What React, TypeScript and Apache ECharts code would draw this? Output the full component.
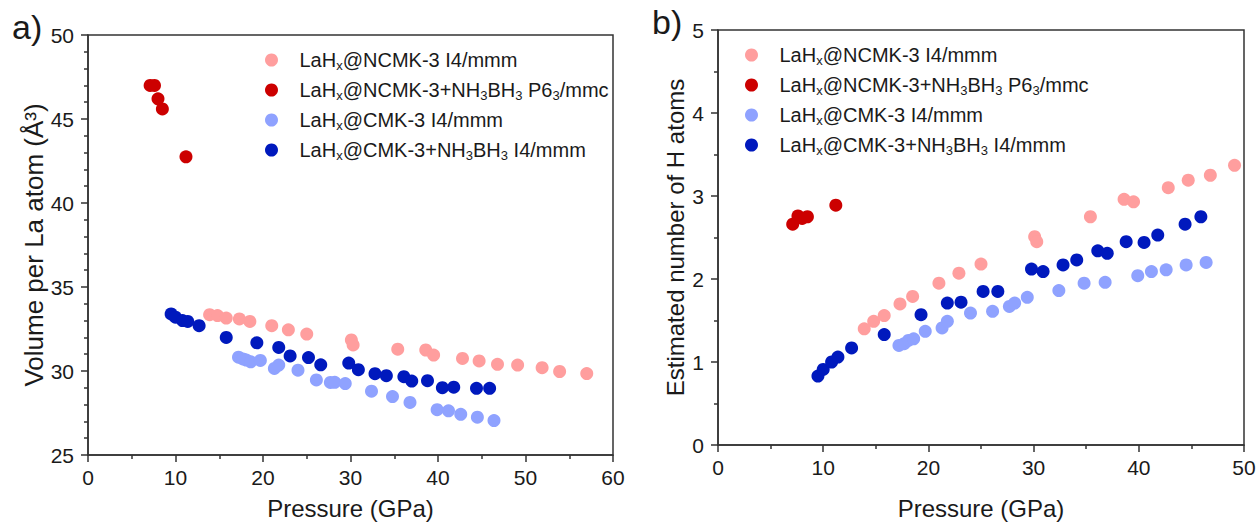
import React, { useEffect, useRef } from "react";
import * as echarts from "echarts";

// ---- Data ----
const seriesNames = [
  "LaHx@NCMK-3 I4/mmm",
  "LaHx@NCMK-3+NH3BH3 P63/mmc",
  "LaHx@CMK-3 I4/mmm",
  "LaHx@CMK-3+NH3BH3 I4/mmm",
];
const seriesColors = ["#FF9E9E", "#CC0000", "#8FA2FF", "#0019BD"];

// LaHx@NCMK-3 I4/mmm
const ncmkP = [13.9, 14.8, 15.8, 17.3, 18.5, 21.0, 22.9, 25.0, 30.1, 30.3, 35.4, 38.6, 39.5, 42.8, 44.7, 46.8, 49.1, 51.9, 53.9, 57.0];
const ncmkV = [33.35, 33.3, 33.15, 33.1, 32.95, 32.7, 32.45, 32.2, 31.85, 31.55, 31.3, 31.25, 30.95, 30.75, 30.6, 30.4, 30.35, 30.2, 29.97, 29.85];
const ncmkH = [1.40, 1.49, 1.56, 1.70, 1.79, 1.95, 2.07, 2.18, 2.51, 2.45, 2.75, 2.96, 2.93, 3.10, 3.19, 3.25, 3.37];

// LaHx@NCMK-3+NH3BH3 P63/mmc
const ncmkAbP = [7.1, 7.6, 8.0, 8.5, 11.2];
const ncmkAbV = [47.0, 47.0, 46.2, 45.6, 42.75];
const ncmkAbH = [2.66, 2.76, 2.73, 2.75, 2.89];

// LaHx@CMK-3 I4/mmm
const cmkP = [17.2, 17.7, 18.1, 18.6, 19.7, 21.3, 21.8, 24.0, 26.1, 27.7, 28.2, 29.4, 32.4, 34.8, 36.8, 39.9, 41.2, 42.6, 44.5, 46.4];
const cmkV = [30.82, 30.72, 30.65, 30.55, 30.63, 30.15, 30.35, 30.05, 29.47, 29.32, 29.33, 29.25, 28.8, 28.48, 28.13, 27.7, 27.63, 27.42, 27.25, 27.05];
const cmkH = [1.20, 1.22, 1.26, 1.28, 1.37, 1.41, 1.49, 1.59, 1.61, 1.67, 1.71, 1.78, 1.86, 1.95, 1.96, 2.04, 2.09, 2.11, 2.17, 2.20];

// LaHx@CMK-3+NH3BH3 I4/mmm
const cmkAbP = [9.5, 10.0, 10.8, 11.4, 12.7, 15.8, 19.3, 21.8, 23.1, 25.2, 26.6, 29.8, 30.9, 32.8, 34.1, 36.1, 37.0, 38.8, 40.5, 41.8, 44.4, 45.9];
const cmkAbV = [33.4, 33.2, 33.0, 32.95, 32.7, 32.0, 31.68, 31.4, 30.9, 30.8, 30.37, 30.47, 30.08, 29.84, 29.72, 29.66, 29.4, 29.42, 29.01, 29.04, 28.97, 28.97];
const cmkAbH = [0.83, 0.91, 1.0, 1.06, 1.17, 1.33, 1.57, 1.71, 1.72, 1.85, 1.85, 2.12, 2.09, 2.17, 2.23, 2.34, 2.31, 2.45, 2.44, 2.53, 2.66, 2.75];

const pressures = [ncmkP, ncmkAbP, cmkP, cmkAbP];
const volumes = [ncmkV, ncmkAbV, cmkV, cmkAbV];
const hAtoms = [ncmkH, ncmkAbH, cmkH, cmkAbH];

const legendRich: Record<string, string> = {
  "LaHx@NCMK-3 I4/mmm": "{t|LaH}{s|x}{t|@NCMK-3 I4/mmm}",
  "LaHx@NCMK-3+NH3BH3 P63/mmc": "{t|LaH}{s|x}{t|@NCMK-3+NH}{s|3}{t|BH}{s|3}{t| P6}{s|3}{t|/mmc}",
  "LaHx@CMK-3 I4/mmm": "{t|LaH}{s|x}{t|@CMK-3 I4/mmm}",
  "LaHx@CMK-3+NH3BH3 I4/mmm": "{t|LaH}{s|x}{t|@CMK-3+NH}{s|3}{t|BH}{s|3}{t| I4/mmm}",
};

const FONT = "'Liberation Sans', Arial, Helvetica, sans-serif";
const TXT = "#1a1a1a";
const AX = "#333333";

function pair(xs: number[], ys: number[]) {
  return ys.map((y, i) => [xs[i], y]);
}

export default function App() {
  const ref = useRef<HTMLDivElement>(null);
  useEffect(() => {
    if (!ref.current) return;
    const chart = echarts.init(ref.current, undefined, { renderer: "svg" });

    const axisCommon = {
      axisLine: { show: true, lineStyle: { color: AX, width: 1.5 } },
      axisTick: { show: true, inside: false, length: 7, lineStyle: { color: AX, width: 1.5 } },
      minorTick: { show: true, length: 4, lineStyle: { color: AX, width: 1.5 } },
      splitLine: { show: false },
      axisLabel: { color: TXT, fontSize: 21, fontFamily: FONT },
      nameTextStyle: { color: TXT, fontSize: 24, fontFamily: FONT },
      nameLocation: "middle" as const,
    };

    const legendCommon = {
      orient: "vertical" as const,
      icon: "circle",
      itemWidth: 46,
      itemHeight: 13,
      itemGap: 8,
      data: seriesNames,
      formatter: (name: string) => legendRich[name],
      textStyle: {
        rich: {
          t: { fontSize: 20, lineHeight: 24, color: TXT, fontFamily: FONT },
          s: { fontSize: 13, lineHeight: 9, verticalAlign: "bottom", color: TXT, fontFamily: FONT },
        },
      },
      selectedMode: false,
    };

    const series: any[] = [];
    seriesNames.forEach((name, k) => {
      series.push({
        name,
        type: "scatter",
        xAxisIndex: 0,
        yAxisIndex: 0,
        symbol: "circle",
        symbolSize: 13,
        itemStyle: { color: seriesColors[k], opacity: 1 },
        data: pair(pressures[k], volumes[k]),
      });
    });
    seriesNames.forEach((name, k) => {
      series.push({
        name,
        type: "scatter",
        xAxisIndex: 1,
        yAxisIndex: 1,
        symbol: "circle",
        symbolSize: 13,
        itemStyle: { color: seriesColors[k], opacity: 1 },
        data: pair(pressures[k], hAtoms[k]),
      });
    });

    chart.setOption({
      animation: false,
      textStyle: { fontFamily: FONT },
      grid: [
        { left: 88, top: 35, width: 525, height: 423, show: true, borderColor: AX, borderWidth: 1.5, backgroundColor: "transparent" },
        { left: 718, top: 30, width: 526, height: 423, show: true, borderColor: AX, borderWidth: 1.5, backgroundColor: "transparent" },
      ],
      xAxis: [
        {
          ...axisCommon,
          gridIndex: 0,
          type: "value",
          min: 0,
          max: 60,
          interval: 10,
          minorTick: { ...axisCommon.minorTick, splitNumber: 2 },
          axisLabel: { ...axisCommon.axisLabel, margin: 12 },
          name: "Pressure (GPa)",
          nameGap: 41,
        },
        {
          ...axisCommon,
          gridIndex: 1,
          type: "value",
          min: 0,
          max: 50,
          interval: 10,
          minorTick: { ...axisCommon.minorTick, splitNumber: 2 },
          axisLabel: { ...axisCommon.axisLabel, margin: 12 },
          name: "Pressure (GPa)",
          nameGap: 51,
        },
      ],
      yAxis: [
        {
          ...axisCommon,
          gridIndex: 0,
          type: "value",
          min: 25,
          max: 50,
          interval: 5,
          minorTick: { ...axisCommon.minorTick, splitNumber: 5 },
          axisLabel: { ...axisCommon.axisLabel, margin: 14 },
          name: "Volume per La atom (Å³)",
          nameRotate: 90,
          nameGap: 37,
          nameTextStyle: { color: TXT, fontSize: 26, fontFamily: FONT },
        },
        {
          ...axisCommon,
          gridIndex: 1,
          type: "value",
          min: 0,
          max: 5,
          interval: 1,
          minorTick: { ...axisCommon.minorTick, splitNumber: 2 },
          axisLabel: { ...axisCommon.axisLabel, margin: 14 },
          name: "Estimated number of H atoms",
          nameRotate: 90,
          nameGap: 31,
        },
      ],
      legend: [
        { ...legendCommon, left: 260, top: 45 },
        { ...legendCommon, left: 740, top: 40 },
      ],
      graphic: [
        { type: "text", left: 12, top: 10, style: { text: "a)", fontSize: 34, fill: TXT, fontFamily: FONT } },
        { type: "text", left: 652, top: 5, style: { text: "b)", fontSize: 34, fill: TXT, fontFamily: FONT } },
      ],
      series,
    });

    return () => chart.dispose();
  }, []);

  return (
    <div
      ref={ref}
      style={{ position: "fixed", left: 0, top: 0, width: 1259, height: 525, background: "#fff" }}
    />
  );
}
